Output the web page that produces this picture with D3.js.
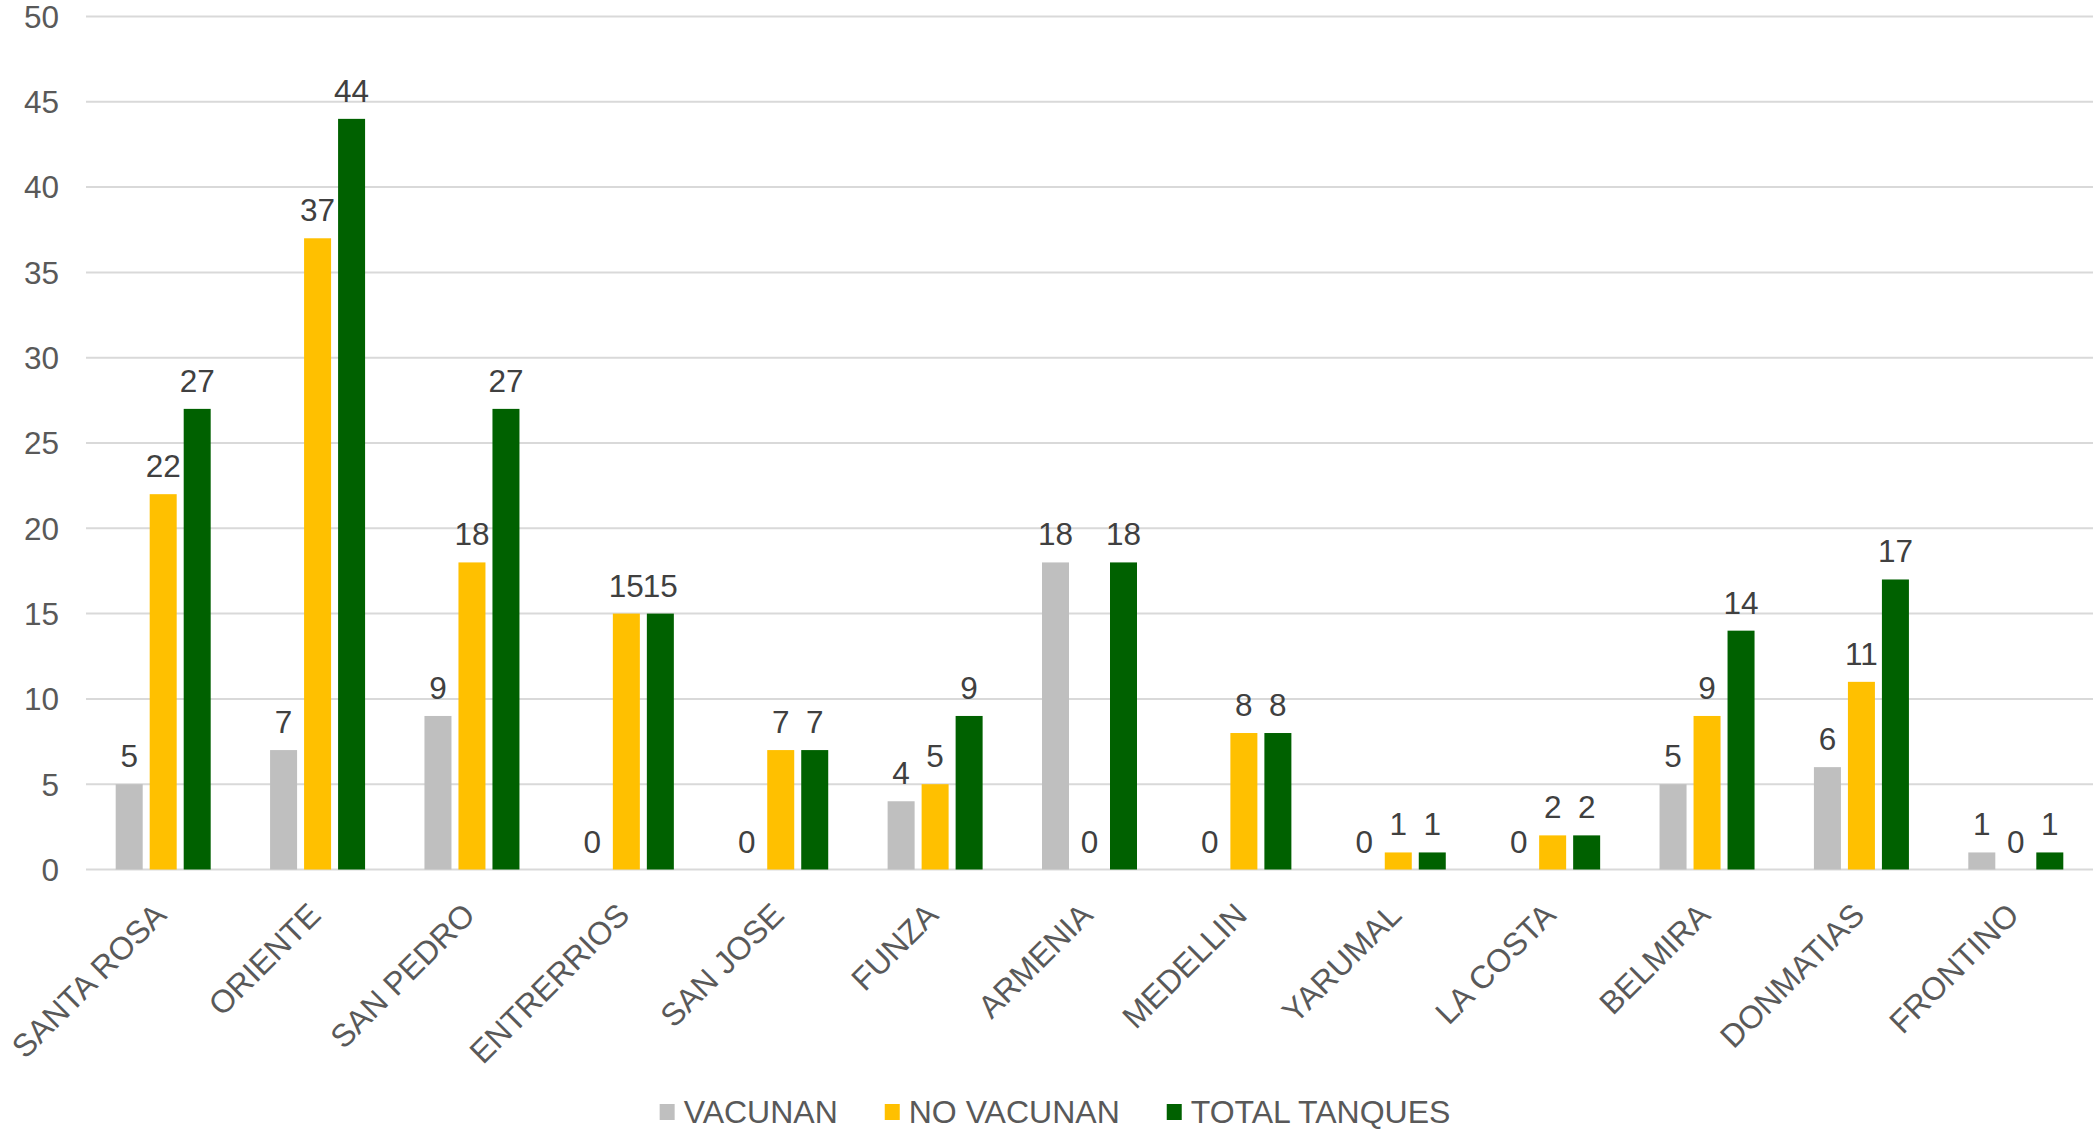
<!DOCTYPE html>
<html>
<head>
<meta charset="utf-8">
<script src="https://cdn.jsdelivr.net/npm/d3@7.9.0/dist/d3.min.js"></script>
<style>
  html, body { margin: 0; padding: 0; background: #fff; }
  svg text { font-family: "Liberation Sans", Arial, sans-serif; }
</style>
</head>
<body>
<div id="vis"></div>
<script>
const width = 2093, height = 1130;

const categories = ["SANTA ROSA", "ORIENTE", "SAN PEDRO", "ENTRERRIOS", "SAN JOSE", "FUNZA",
  "ARMENIA", "MEDELLIN", "YARUMAL", "LA COSTA", "BELMIRA", "DONMATIAS", "FRONTINO"];
const seriesNames = ["VACUNAN", "NO VACUNAN", "TOTAL TANQUES"];
const vacunan = [5, 7, 9, 0, 0, 4, 18, 0, 0, 0, 5, 6, 1];
const noVacunan = [22, 37, 18, 15, 7, 5, 0, 8, 1, 2, 9, 11, 0];
const totalTanques = [27, 44, 27, 15, 7, 9, 18, 8, 1, 2, 14, 17, 1];
const yTicks = [0, 5, 10, 15, 20, 25, 30, 35, 40, 45, 50];

const colors = ["#BFBFBF", "#FFC000", "#006100"];
const seriesValues = [vacunan, noVacunan, totalTanques];

const margin = { top: 16.5, right: 0, bottom: 260.5, left: 86 };

const svg = d3.select("#vis").append("svg")
    .attr("width", width)
    .attr("height", height)
    .attr("viewBox", `0 0 ${width} ${height}`);

const x = d3.scaleBand()
    .domain(categories)
    .range([margin.left, width - margin.right]);

const groupW = 95;
const xs = d3.scaleBand()
    .domain(seriesNames)
    .range([(x.bandwidth() - groupW) / 2, (x.bandwidth() + groupW) / 2])
    .paddingInner(7 / 34);

const y = d3.scaleLinear()
    .domain([0, 50])
    .range([height - margin.bottom, margin.top]);

// gridlines
svg.append("g")
  .selectAll("line")
  .data(yTicks)
  .enter()
  .append("line")
    .attr("x1", margin.left)
    .attr("x2", width)
    .attr("y1", d => y(d))
    .attr("y2", d => y(d))
    .attr("stroke", "#D9D9D9")
    .attr("stroke-width", 2);

// y labels
svg.append("g")
  .selectAll("text")
  .data(yTicks)
  .enter()
  .append("text")
    .attr("x", 59)
    .attr("y", d => y(d))
    .attr("dy", "0.36em")
    .attr("text-anchor", "end")
    .attr("fill", "#595959")
    .style("font-size", "31.5px")
    .text(d => d);

// bars
const rows = categories.map((c, i) => ({
  cat: c,
  vals: seriesNames.map((s, j) => ({ s, j, v: seriesValues[j][i] }))
}));

const groups = svg.append("g")
  .selectAll("g")
  .data(rows)
  .enter()
  .append("g")
    .attr("transform", d => `translate(${x(d.cat)},0)`);

groups.selectAll("rect")
  .data(d => d.vals)
  .enter()
  .append("rect")
    .attr("x", d => xs(d.s))
    .attr("width", xs.bandwidth())
    .attr("y", d => y(d.v))
    .attr("height", d => y(0) - y(d.v))
    .attr("fill", d => colors[d.j]);

groups.selectAll("text")
  .data(d => d.vals)
  .enter()
  .append("text")
    .attr("x", d => xs(d.s) + xs.bandwidth() / 2)
    .attr("y", d => y(d.v) - 17)
    .attr("text-anchor", "middle")
    .attr("fill", "#404040")
    .style("font-size", "31.5px")
    .text(d => d.v);

// category labels
svg.append("g")
  .selectAll("text")
  .data(categories)
  .enter()
  .append("text")
    .attr("transform", d => `translate(${x(d) + x.bandwidth() / 2 + 5},917) rotate(-45)`)
    .attr("text-anchor", "end")
    .attr("fill", "#595959")
    .style("font-size", "32px")
    .text(d => d);

// legend
const legend = svg.append("g");
const items = legend.selectAll("g")
  .data(seriesNames)
  .enter()
  .append("g");

items.append("rect")
    .attr("width", 15)
    .attr("height", 16)
    .attr("y", 1104)
    .attr("fill", (d, i) => colors[i]);

items.append("text")
    .attr("x", 24)
    .attr("y", 1123)
    .attr("fill", "#595959")
    .style("font-size", "32px")
    .text(d => d);

let pos = 0;
const offsets = [];
items.each(function () {
  offsets.push(pos);
  const w = d3.select(this).select("text").node().getComputedTextLength();
  pos += 24 + w + 47;
});
const totalW = pos - 47;
const start = 1055 - totalW / 2;
items.attr("transform", (d, i) => `translate(${start + offsets[i]},0)`);
</script>
</body>
</html>
